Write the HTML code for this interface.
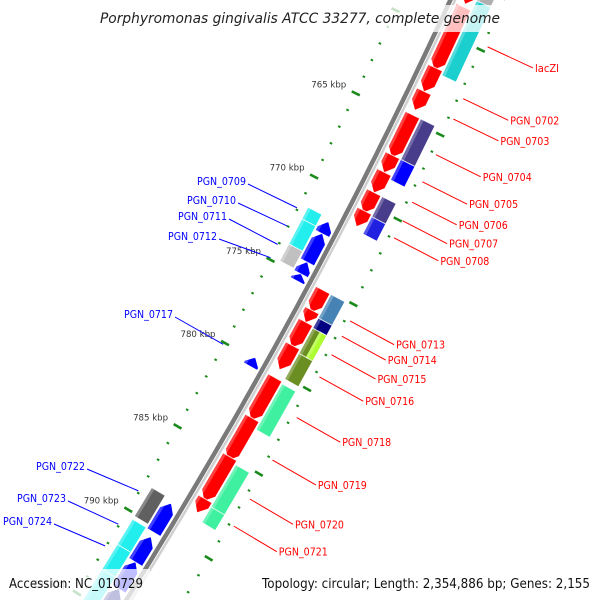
<!DOCTYPE html>
<html><head><meta charset="utf-8"><style>
html,body{margin:0;padding:0;background:#fff;overflow:hidden;width:600px;height:600px;}
svg{display:block;}
</style></head><body>
<svg id="chart" width="600" height="600" viewBox="0 0 600 600" xmlns="http://www.w3.org/2000/svg">
<g id="ticks"></g>
<g id="backbone"></g>
<g id="genes"></g>
<g id="labels"></g>
<rect x="95" y="5" width="410" height="27" fill="rgba(255,255,255,0.75)"/>
<text x="300" y="23" text-anchor="middle" font-family="DejaVu Sans, Liberation Sans, sans-serif" font-style="italic" font-size="14" textLength="400" lengthAdjust="spacingAndGlyphs" fill="#222">Porphyromonas gingivalis ATCC 33277, complete genome</text>
<rect x="0" y="569" width="150" height="31" fill="rgba(255,255,255,0.75)"/>
<rect x="255" y="569" width="345" height="31" fill="rgba(255,255,255,0.75)"/>
<text x="9" y="588" font-family="DejaVu Sans, Liberation Sans, sans-serif" font-size="13" textLength="134" lengthAdjust="spacingAndGlyphs" fill="#111">Accession: NC_010729</text>
<text x="262" y="588" font-family="DejaVu Sans, Liberation Sans, sans-serif" font-size="13" textLength="328" lengthAdjust="spacingAndGlyphs" fill="#111">Topology: circular; Length: 2,354,886 bp; Genes: 2,155</text>
</svg>
<script>
// ---- data ----
const tickStart = 755, tickEnd = 797;
const tickLabelKbp = [765, 770, 775, 780, 785, 790, 795];
const geneStart = [756.0,758.3,761.9,763.3,764.7,767.1,768.1,769.3,770.4, 756.0,757.7,764.7,767.1,769.3,770.5,
  775.1,776.3,777.0,778.4,780.3,782.7,785.0,787.5, 775.1,776.5,777.1,777.1,778.6,780.4,785.2,787.7,
  771.8,772.5,774.2,774.9,779.9,788.6,790.6,792.1,793.7, 771.6,772.3,773.8,788.4,790.3,791.8,793.3];
const geneEnd = [758.1,762.0,763.3,764.4,767.2,768.1,769.3,770.5,771.3, 757.7,762.1,767.1,768.3,770.5,771.5,
  776.4,777.0,778.5,779.8,782.8,785.2,787.6,788.3, 776.5,777.1,778.6,778.6,780.1,783.1,787.8,788.6,
  772.5,774.2,774.9,775.3,780.4,790.3,792.1,793.7,794.8, 772.3,773.8,774.8,790.1,791.8,793.3,795.5];
const geneLane = [1,1,1,1,1,1,1,1,1, 2,2,2,2,2,2, 1,1,1,1,1,1,1,1, 2,2,2,2,2,2,2,2, 1,1,1,1,1,1,1,1,1, 2,2,2,2,2,2,2];
const geneSide = [1,1,1,1,1,1,1,1,1, 1,1,1,1,1,1, 1,1,1,1,1,1,1,1, 1,1,1,1,1,1,1,1, -1,-1,-1,-1,-1,-1,-1,-1,-1, -1,-1,-1,-1,-1,-1,-1];
const geneColor = ['#ff0000','#ff0000','#ff0000','#ff0000','#ff0000','#ff0000','#ff0000','#ff0000','#ff0000',
  '#b0b0b0','#1ccfcf','#483d8b','#0000ff','#483d8b','#2020e0',
  '#ff0000','#ff0000','#ff0000','#ff0000','#ff0000','#ff0000','#ff0000','#ff0000',
  '#4682b4','#000080','#6b8e23','#adff2f','#6b8e23','#3ff0a0','#3ff0a0','#3ff0a0',
  '#0000ff','#0000ff','#0000ff','#0000ff','#0000ff','#0000ff','#0000ff','#0000ff','#000080',
  '#22eeee','#22eeee','#c0c0c0','#606060','#22eeee','#22eeee','#22eeee'];
const geneHalf = [0,0,0,0,0,0,0,0,0, 0,0,0,0,0,0, 0,0,0,0,0,0,0,0, 0,0,0,1,0,0,0,0, 0,0,0,0,0,0,0,0,0, 0,0,0,0,0,0,0];
const rightLabels = ['lacZl','PGN_0702','PGN_0703','PGN_0704','PGN_0705','PGN_0706','PGN_0707','PGN_0708','PGN_0713','PGN_0714','PGN_0715','PGN_0716','PGN_0718','PGN_0719','PGN_0720','PGN_0721'];
const rightLabelKbp = [759.7,762.75,763.95,766.05,767.65,768.85,769.95,770.95,775.85,776.75,777.85,779.15,781.55,784.05,786.35,787.95];
const leftLabels = ['PGN_0709','PGN_0710','PGN_0711','PGN_0712','PGN_0717','PGN_0722','PGN_0723','PGN_0724'];
const leftLabelKbp = [771.9,773.0,774.1,774.9,780.1,788.9,790.9,792.2];
const leftLabelY = [181,200,216,236,314,466,498,521];
const leftLabelEnd = [246,236,227,217,173,85,66,52];

// ---- geometry ----
const NS='http://www.w3.org/2000/svg';
function yOf(k){ return 114 + (k-765)*16.8; }
function P(k, off){
  const y = yOf(k);
  const x = 452 - 0.4583*y - 1.36e-4*y*y;
  let tx = -0.4583 - 2.72e-4*y, ty = 1;
  const L = Math.hypot(tx,ty); tx/=L; ty/=L;
  const nx = ty, ny = -tx;
  return [x + off*nx, y + off*ny];
}
function pts(a){ return a.map(p=>p[0].toFixed(1)+','+p[1].toFixed(1)).join(' '); }
function mk(tag, attrs, parent){ const e=document.createElementNS(NS,tag); for(const k in attrs) e.setAttribute(k,attrs[k]); parent.appendChild(e); return e; }

const bb = document.getElementById('backbone');
function curve(off){ let d=''; for(let k=748;k<=798;k+=0.5){ const p=P(k,off); d+=(d?'L':'M')+p[0].toFixed(1)+','+p[1].toFixed(1);} return d; }
const b1 = mk('path',{d:curve(-1.5),stroke:'#7a7a7a','stroke-width':4.5,fill:'none'},bb);


const b2 = mk('path',{d:curve(2.8),stroke:'#cfcfcf','stroke-width':2.5,fill:'none'},bb);



const tg = document.getElementById('ticks');
for(let k=tickStart;k<=tickEnd;k++){
  const major = (k%5===0);
  for(const s of [-1,1]){
    const len = major?4.5:1.3;
    const a=P(k,s*47-len), b=P(k,s*47+len);
    const t = mk('line',{x1:a[0],y1:a[1],x2:b[0],y2:b[1],stroke:'#1a8a1a','stroke-width':major?2.6:2},tg);
    
    
  }
}
tickLabelKbp.forEach(k=>{
  const p=P(k,-47);
  const t = mk('text',{x:p[0]-27,y:p[1]-6,'text-anchor':'middle','font-family':'DejaVu Sans, Liberation Sans, sans-serif','font-size':9,fill:'#333',textLength:35,lengthAdjust:'spacingAndGlyphs'},tg);
  t.textContent = k+' kbp';
  
  
});

const gg = document.getElementById('genes');
const W = 7.5;
for(let i=0;i<geneStart.length;i++){
  const s=geneSide[i], c = s*(geneLane[i]===1?13.5:30.5);
  let lo=c-W, hi=c+W;
  if(geneHalf[i]) lo=c;
  const k1=geneStart[i], k2=geneEnd[i];
  const arrow = geneLane[i]===1;
  const ah = Math.min(0.45, (k2-k1)*0.8);
  let poly;
  if(!arrow){
    poly=[P(k1,lo),P(k2,lo),P(k2,hi),P(k1,hi)];
  } else if(s>0){
    poly=[P(k1,lo),P(k2-ah,lo),P(k2,(lo+hi)/2),P(k2-ah,hi),P(k1,hi)];
  } else {
    poly=[P(k2,lo),P(k1+ah,lo),P(k1,(lo+hi)/2),P(k1+ah,hi),P(k2,hi)];
  }
  const g = mk('polygon',{points:pts(poly),fill:geneColor[i]},gg);
  
  
  const hlo=lo, hhi=lo+3;
  let hp;
  if(!arrow) hp=[P(k1,hlo),P(k2,hlo),P(k2,hhi),P(k1,hhi)];
  else if(s>0) hp=[P(k1,hlo),P(k2-ah,hlo),P(k2-ah*0.6,hhi),P(k1,hhi)];
  else hp=[P(k2,hlo),P(k1+ah,hlo),P(k1+ah*0.6,hhi),P(k2,hhi)];
  const h = mk('polygon',{points:pts(hp),fill:'rgba(255,255,255,0.25)'},gg);
  
  
  const e1=P(k1,lo), e2=P(k1,hi);
  const sep = mk('line',{x1:e1[0],y1:e1[1],x2:e2[0],y2:e2[1],stroke:'rgba(255,255,255,0.8)','stroke-width':1},gg);
  
  
}

const lg = document.getElementById('labels');
rightLabels.forEach((name,i)=>{
  const a=P(rightLabelKbp[i],52), b=P(rightLabelKbp[i],102);
  const l = mk('line',{x1:a[0],y1:a[1],x2:b[0],y2:b[1],stroke:'#ff0000','stroke-width':1},lg);
  
  
  const t = mk('text',{x:b[0]+2,y:b[1]+4,'font-family':'DejaVu Sans, Liberation Sans, sans-serif','font-size':11,fill:'#ff0000',textLength:name.length>5?49:24,lengthAdjust:'spacingAndGlyphs'},lg);
  t.textContent=name;
  
  
});
leftLabels.forEach((name,i)=>{
  const a=P(leftLabelKbp[i],-48);
  const y=leftLabelY[i], ex=leftLabelEnd[i];
  const l = mk('line',{x1:a[0],y1:a[1],x2:ex+2,y2:y+3,stroke:'#0000ff','stroke-width':1},lg);
  
  
  const t = mk('text',{x:ex,y:y+4,'text-anchor':'end','font-family':'DejaVu Sans, Liberation Sans, sans-serif','font-size':11,fill:'#0000ff',textLength:49,lengthAdjust:'spacingAndGlyphs'},lg);
  t.textContent=name;
  
  
});
</script>
</body></html>
